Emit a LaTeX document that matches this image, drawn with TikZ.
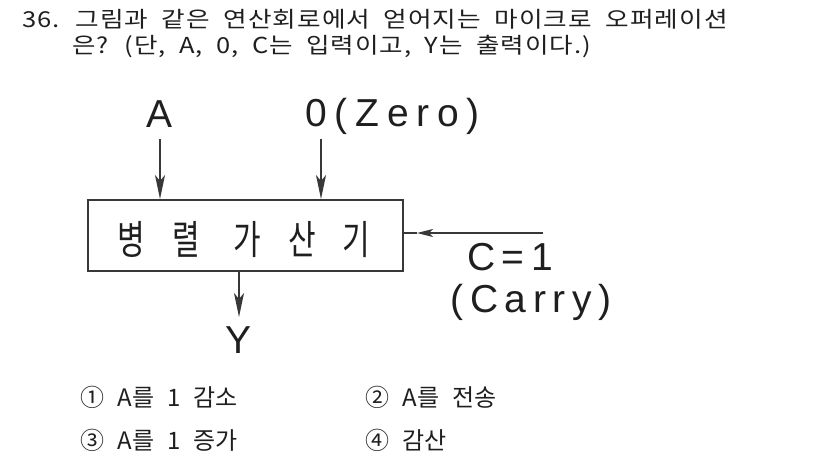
\documentclass[tikz,border=0pt]{standalone}
\usepackage{fontspec}
\usetikzlibrary{arrows.meta}
\newfontfamily\krtitle[LetterSpace=4,WordSpace=2.0]{Noto Sans CJK KR}
\newfontfamily\krbox[LetterSpace=90]{Noto Sans CJK KR}
\newfontfamily\krplain[LetterSpace=2,WordSpace=2.2]{Noto Sans CJK KR}
\newfontfamily\lab[LetterSpace=17]{Liberation Sans}
\newfontfamily\labwide[LetterSpace=20]{Liberation Sans}
\definecolor{ink}{gray}{0.12}
\definecolor{lineink}{gray}{0.22}
\tikzset{
  titletext/.style={anchor=west,inner sep=0pt,text=ink,font=\krtitle\fontsize{22}{26}\selectfont},
  opttext/.style={anchor=west,inner sep=0pt,text=ink,font=\krplain\fontsize{24}{28}\selectfont},
  labtext/.style={inner sep=0pt,text=ink,font=\lab\fontsize{39}{44}\selectfont},
  adderbox/.style={draw=lineink,line width=2pt,minimum width=315pt,minimum height=71pt,inner sep=0pt},
  wire/.style={draw=lineink,line width=1.8pt},
  arr/.style={wire,-{Stealth[length=24pt,width=10pt,inset=6pt]}},
  smallarr/.style={wire,-{Stealth[length=16pt,width=8pt,inset=4pt]}}
}
\begin{document}
\begin{tikzpicture}[x=1pt,y=-1pt]
\useasboundingbox (0,0) rectangle (826,455);
\fill[white] (0,0) rectangle (826,455);
% question
\node[titletext] (q1) at (22,19) {\scalebox{1.165}[1]{36. 그림과 같은 연산회로에서 얻어지는 마이크로 오퍼레이션}};
\node[titletext] (q2) at (72,47) {\scalebox{1.16}[1]{은? (단, A, 0, C는 입력이고, Y는 출력이다.)}};
% diagram
\node[adderbox] (box) at (245.5,235.5) {};
\node[inner sep=0pt,text=ink,font=\krbox\fontsize{40}{44}\selectfont] (boxtxt) at (244,240) {\scalebox{0.75}[1]{병렬 가산기}};
\node[labtext] (A) at (160,114) {A};
\node[labtext,anchor=west,font=\labwide\fontsize{39}{44}\selectfont] (Z) at (305,116) {0(Zero)};
\node[labtext] (C) at (510,257) {C=1};
\node[labtext] (Carry) at (531,302) {(Carry)};
\node[labtext] (Y) at (239,340) {Y};
\coordinate (aTop) at (160,139);
\coordinate (zTop) at (321,139);
\coordinate (cEnd) at (543,233);
\coordinate (cTip) at (417,233);
\coordinate (yTip) at (239,317);
\draw[arr] (aTop) -- (aTop |- box.north);
\draw[arr] (zTop) -- (zTop |- box.north);
\draw[arr] (yTip |- box.south) -- (yTip);
\draw[smallarr] (cEnd) -- (cTip);
\draw[wire] (cTip) -- (cTip -| box.east);
% options
\node[opttext] (o1) at (80,397) {① A를 1 감소};
\node[opttext] (o2) at (365,397) {② A를 전송};
\node[opttext] (o3) at (80,440) {③ A를 1 증가};
\node[opttext] (o4) at (365,440) {④ 감산};
\end{tikzpicture}
\end{document}
